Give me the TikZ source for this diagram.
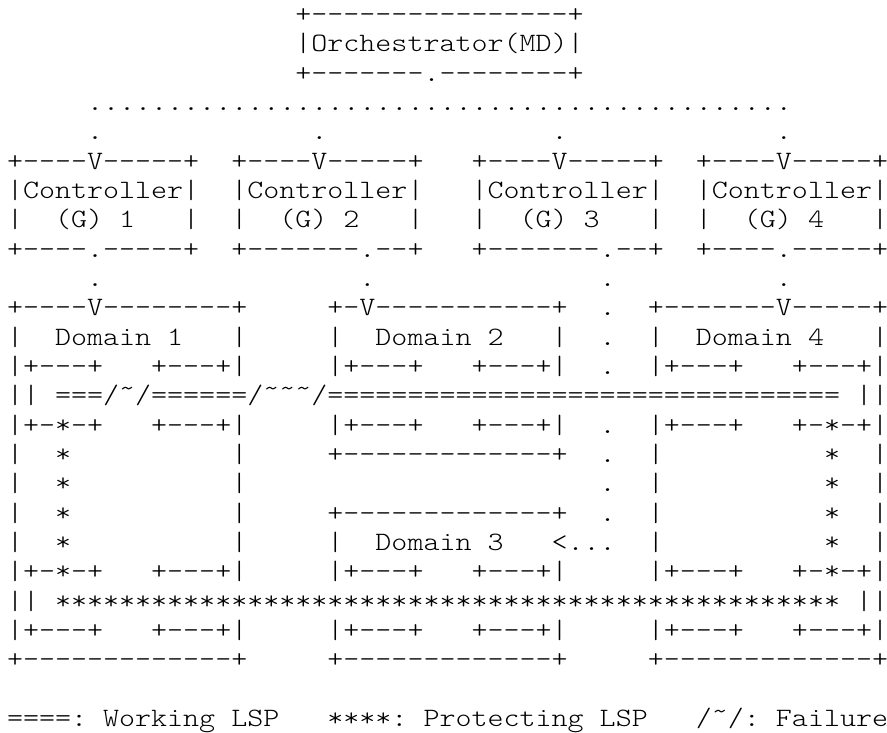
\documentclass[tikz,border=0pt]{standalone}
\usepackage{graphicx}
\usepackage{fontspec}
% light typewriter face for the character art
\newfontfamily\artfont{lmmonolt10-regular.otf}
% monospaced layout: column pitch and line pitch in pt (1 unit = 1pt)
\newcommand\linepitch{29.32}
\newcommand\wave{\char"02DC\relax}
\tikzset{
  asciirow/.style={anchor=base west, inner sep=0pt, outer sep=0pt,
    font=\artfont\fontsize{26.5}{26.5}\selectfont}
}
% place one text line of the figure: #1 = line number, #2 = its characters
\newcommand\putrow[2]{%
  \node[asciirow] (row#1) at (7, {\linepitch*#1+22.66}) {\scalebox{1.1515}[1]{#2}};}
\begin{document}
\begin{tikzpicture}[x=1pt, y=-1pt]
\fill[white] (0,0) rectangle (887,733);
\useasboundingbox (0,0) rectangle (887,733);
\putrow{0}{~~~~~~~~~~~~~~~~~~+----------------+}
\putrow{1}{~~~~~~~~~~~~~~~~~~|Orchestrator(MD)|}
\putrow{2}{~~~~~~~~~~~~~~~~~~+-------.--------+}
\putrow{3}{~~~~~............................................}
\putrow{4}{~~~~~.~~~~~~~~~~~~~.~~~~~~~~~~~~~~.~~~~~~~~~~~~~.}
\putrow{5}{+----V-----+~~+----V-----+~~~+----V-----+~~+----V-----+}
\putrow{6}{|Controller|~~|Controller|~~~|Controller|~~|Controller|}
\putrow{7}{|~~(G)~1~~~|~~|~~(G)~2~~~|~~~|~~(G)~3~~~|~~|~~(G)~4~~~|}
\putrow{8}{+----.-----+~~+-------.--+~~~+-------.--+~~+----.-----+}
\putrow{9}{~~~~~.~~~~~~~~~~~~~~~~.~~~~~~~~~~~~~~.~~~~~~~~~~.}
\putrow{10}{+----V--------+~~~~~+-V-----------+~~.~~+-------V-----+}
\putrow{11}{|~~Domain~1~~~|~~~~~|~~Domain~2~~~|~~.~~|~~Domain~4~~~|}
\putrow{12}{|+---+~~~+---+|~~~~~|+---+~~~+---+|~~.~~|+---+~~~+---+|}
\putrow{13}{||~===/\wave/======/\wave\wave\wave/================================~||}
\putrow{14}{|+-*-+~~~+---+|~~~~~|+---+~~~+---+|~~.~~|+---+~~~+-*-+|}
\putrow{15}{|~~*~~~~~~~~~~|~~~~~+-------------+~~.~~|~~~~~~~~~~*~~|}
\putrow{16}{|~~*~~~~~~~~~~|~~~~~~~~~~~~~~~~~~~~~~.~~|~~~~~~~~~~*~~|}
\putrow{17}{|~~*~~~~~~~~~~|~~~~~+-------------+~~.~~|~~~~~~~~~~*~~|}
\putrow{18}{|~~*~~~~~~~~~~|~~~~~|~~Domain~3~~~<...~~|~~~~~~~~~~*~~|}
\putrow{19}{|+-*-+~~~+---+|~~~~~|+---+~~~+---+|~~~~~|+---+~~~+-*-+|}
\putrow{20}{||~*************************************************~||}
\putrow{21}{|+---+~~~+---+|~~~~~|+---+~~~+---+|~~~~~|+---+~~~+---+|}
\putrow{22}{+-------------+~~~~~+-------------+~~~~~+-------------+}
\putrow{24}{====:~Working~LSP~~~****:~Protecting~LSP~~~/\wave/:~Failure}
\end{tikzpicture}
\end{document}
